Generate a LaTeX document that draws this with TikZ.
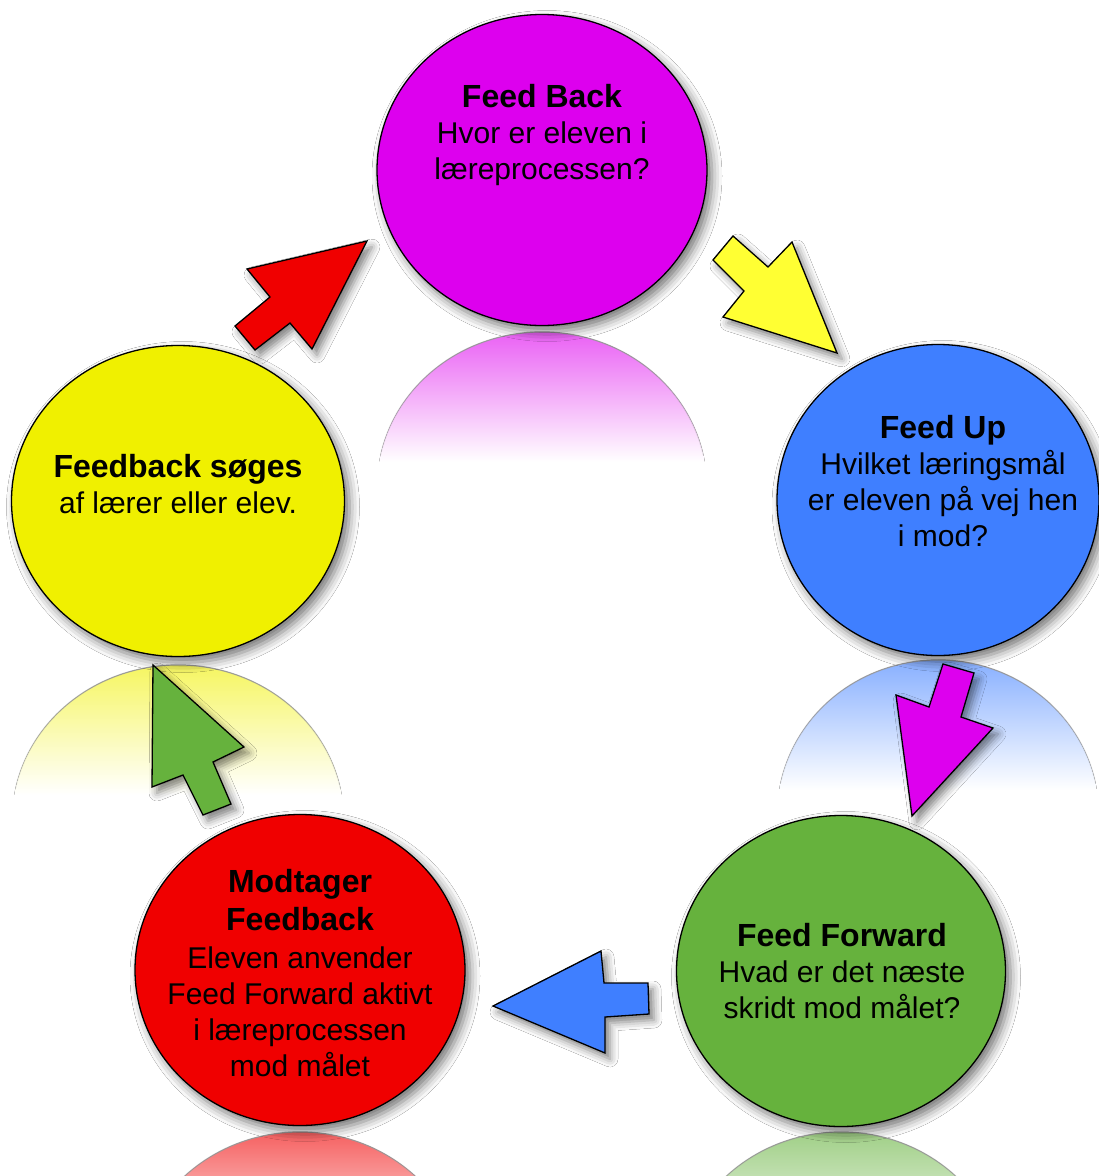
\documentclass[tikz,border=0pt]{standalone}
\usepackage{fontspec}
\setmainfont{Liberation Sans}
\usetikzlibrary{shapes.geometric,shadows.blur,fadings}
\definecolor{cpur}{RGB}{221,0,238}
\definecolor{cblue}{RGB}{63,127,255}
\definecolor{cyel}{RGB}{240,240,0}
\definecolor{cgreen}{RGB}{102,178,61}
\definecolor{cred}{RGB}{240,0,0}
\definecolor{ayel}{RGB}{255,255,51}
\tikzfading[name=fadedown, top color=transparent!0, bottom color=transparent!100]
\newcommand\ttl[1]{{\fontsize{32}{36}\selectfont\bfseries #1}}
\newcommand\reflection[4]{%
  \begin{scope}
    \clip (#1,#2+155) ellipse [x radius=#4pt, y radius=155pt];
    \fill[top color=#3!62!white, middle color=#3!14!white, bottom color=white] (#1-#4,#2) rectangle (#1+#4,#2+130);
  \end{scope}
  \draw[black!40, line width=1.2pt, path fading=fadedown]
    (#1,#2+155) ++(12:#4pt and 155pt) arc [start angle=12, end angle=168, x radius=#4pt, y radius=155pt];}
\begin{document}
\begin{tikzpicture}[x=1pt,y=-1pt,
  disc/.style={ellipse, draw=black, line width=1.3pt, minimum width=330pt, minimum height=311pt, inner sep=0pt,
    blur shadow={shadow xshift=5pt, shadow yshift=-6pt, shadow blur radius=10pt, shadow opacity=55}},
  blockarrow/.style={draw=black, line width=1.3pt, line join=miter,
    blur shadow={shadow xshift=5pt, shadow yshift=-6pt, shadow blur radius=8pt, shadow opacity=50}},
  lbl/.style={align=center, font=\fontsize{30}{36}\selectfont, inner sep=0pt}]
\path[use as bounding box, fill=white] (0,0) rectangle (1099,1176);

% reflections
\reflection{542}{332}{cpur}{165}
\reflection{938}{660}{cblue}{161}
\reflection{178}{665}{cyel}{166}
\reflection{841}{1132}{cgreen}{164}
\reflection{300}{1132}{cred}{165}

% discs
\node[disc, fill=cpur] (back) at (542,170) {};
\node[disc, fill=cblue, minimum width=322pt] (up) at (938,500) {};
\node[disc, fill=cyel, minimum width=333pt] (soeg) at (178,501) {};
\node[disc, fill=cgreen, minimum width=329pt] (fwd) at (841,971) {};
\node[disc, fill=cred] (modt) at (300,970) {};

% labels
\node[lbl] (tback) at (542,135) {\ttl{Feed Back}\\Hvor er eleven i\\læreprocessen?};
\node[lbl] (tup) at (943,481) {\ttl{Feed Up}\\Hvilket læringsmål\\er eleven på vej hen\\i mod?};
\node[lbl] (tsoeg) at (178,484) {\ttl{Feedback søges}\\af lærer eller elev.};
\node[lbl] (tfwd) at (842,971) {\ttl{Feed Forward}\\Hvad er det næste\\skridt mod målet?};
\node[lbl] (tmodt) at (300,973) {\ttl{Modtager}\\[2pt]\ttl{Feedback}\\[2pt]Eleven anvender\\Feed Forward aktivt\\i læreprocessen\\mod målet};

% block arrows
\draw[blockarrow, fill=cred] (367,241) -- (247,269) -- (270,297) -- (235,326) -- (255,350) -- (290,323) -- (312,349) -- cycle;
\draw[blockarrow, fill=ayel] (733,236) -- (768,267) -- (792,242) -- (837,353) -- (723,317) -- (744,291) -- (713,260) -- cycle;
\draw[blockarrow, fill=cpur] (943,664) -- (974,673) -- (961,717) -- (993,728) -- (912,816) -- (896,695) -- (929,707) -- cycle;
\draw[blockarrow, fill=cblue] (493,1006) -- (601,951) -- (604,983) -- (648,983) -- (649,1014) -- (605,1017) -- (605,1053) -- cycle;
\draw[blockarrow, fill=cgreen] (153,665) -- (244,747) -- (213,762) -- (231,804) -- (203,815) -- (183,775) -- (152,787) -- cycle;
\end{tikzpicture}
\end{document}
